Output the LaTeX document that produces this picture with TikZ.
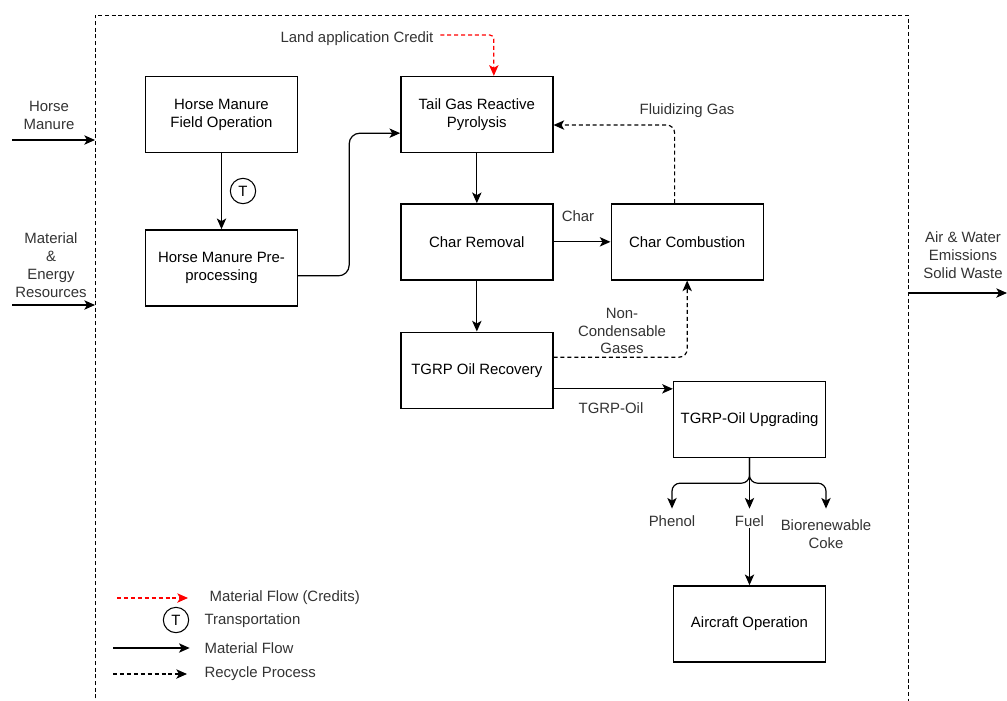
\documentclass[tikz,border=0pt]{standalone}
\usepackage{fontspec}
\setmainfont{Liberation Sans}
\usetikzlibrary{arrows.meta,positioning}
\tikzset{
    process-box/.style = {draw, line width=1pt, rectangle, minimum width=114pt, minimum height=57pt, align=center, inner sep=2pt},
    flow-text/.style = {align=center, inner sep=1pt, text=black!80},
    flow-arrow/.style = {draw, line width=0.9pt, -{Stealth[length=8pt,width=7pt,inset=2pt]}},
    recycle-arrow/.style = {flow-arrow, dash pattern=on 3pt off 2.2pt},
    credit-arrow/.style = {recycle-arrow, red},
    transport-mark/.style = {draw, circle, line width=0.8pt, minimum size=19pt, inner sep=0pt},
}

\begin{document}
\begin{tikzpicture}[x=0.75pt, y=-0.75pt, font=\fontsize{11.2}{13.4}\selectfont]
\useasboundingbox (0,0) rectangle (1007,700);
\coordinate (frame-nw) at (95,15);
\coordinate (frame-ne) at (908,15);
\draw[dash pattern=on 3pt off 2pt, line width=0.7pt] (95,705) -- (frame-nw) -- (frame-ne) -- (908,705);

\node [process-box] (field-op) at (221.5,114.5) {Horse Manure\\Field Operation};
\node [process-box, below=57pt of field-op] (pre-proc) {Horse Manure Pre-\\processing};
\node [process-box, right=76.5pt of field-op] (pyrolysis) {Tail Gas Reactive\\Pyrolysis};
\node [process-box, below=37.5pt of pyrolysis] (char-removal) {Char Removal};
\node [process-box, right=42.75pt of char-removal] (char-combustion) {Char Combustion};
\node [process-box, below=38.25pt of char-removal] (oil-recovery) {TGRP Oil Recovery};
\node [process-box] (upgrading) at (749.5,419.5) {TGRP-Oil Upgrading};
\node [process-box, below=95.25pt of upgrading] (aircraft) {Aircraft Operation};

\node [transport-mark] (haul) at (243,191) {T};
\draw [flow-arrow] (field-op) -- (pre-proc);
\draw [flow-arrow, rounded corners=8pt] ([yshift=-6pt]pre-proc.east) -- ++(51,0) |- ([yshift=-14pt]pyrolysis.west);

\node [flow-text] (land-credit) at (357,39) {Land application Credit};
\draw [credit-arrow, rounded corners=3pt] ([xshift=4pt,yshift=3pt]land-credit.east) -| ([xshift=12.75pt]pyrolysis.north);

\draw [flow-arrow] (pyrolysis) -- (char-removal);
\draw [flow-arrow] (char-removal) -- (char-combustion);
\node [flow-text] (char-label) at (578,216) {Char};
\draw [recycle-arrow, rounded corners=6pt] ([xshift=-9.4pt]char-combustion.north) |- ([yshift=-7.9pt]pyrolysis.east);
\node [flow-text] (fluid-label) at (687,111) {Fluidizing Gas};

\draw [flow-arrow] (char-removal) -- (oil-recovery);
\draw [recycle-arrow, rounded corners=6pt] ([yshift=9.75pt]oil-recovery.east) -| (char-combustion.south);
\node [flow-text] (gas-label) at (622,331) {Non-\\Condensable\\Gases};
\draw [flow-arrow] ([yshift=-14pt]oil-recovery.east) -- ([yshift=-14pt]oil-recovery.east -| upgrading.west);
\node [flow-text] (oil-label) at (611,408) {TGRP-Oil};

\node [flow-text] (phenol) at (672,521) {Phenol};
\node [flow-text] (fuel) at (749.5,521) {Fuel};
\node [flow-text] (coke) at (826,534) {Biorenewable\\Coke};
\draw [flow-arrow] (upgrading.south) -- ([yshift=4pt]fuel.north);
\draw [flow-arrow, rounded corners=6pt] (upgrading.south) -- ++(0,25) -| ([yshift=4pt]phenol.north);
\draw [flow-arrow, rounded corners=6pt] (upgrading.south) -- ++(0,25) -| ([yshift=4pt]phenol.north -| coke.north);
\draw [flow-arrow] (fuel) -- (aircraft);

\node [flow-text] (manure-label) at (49,115) {Horse\\Manure};
\coordinate (manure-in) at (12,140);
\draw [flow-arrow] (manure-in) -- (manure-in -| frame-nw);
\node [flow-text] (resource-label) at (51,265) {Material\\\&\\Energy\\Resources};
\coordinate (resource-in) at (12,305);
\draw [flow-arrow] (resource-in) -- (resource-in -| frame-nw);
\node [flow-text] (waste-label) at (963,255) {Air \& Water\\Emissions\\Solid Waste};
\coordinate (waste-out) at (1007,293);
\draw [flow-arrow] (waste-out -| frame-ne) -- (waste-out);

\node [flow-text, anchor=west] (key-credit-text) at (208,598) {Material Flow (Credits)};
\coordinate (key-credit) at (117,598);
\draw [credit-arrow] (key-credit) -- ([xshift=-15pt]key-credit-text.west);
\node [transport-mark] (key-haul) at (176,620) {T};
\node [flow-text, anchor=west] (key-haul-text) at (203,621) {Transportation};
\node [flow-text, anchor=west] (key-flow-text) at (203,648) {Material Flow};
\coordinate (key-flow) at (113,648);
\draw [flow-arrow] (key-flow) -- ([xshift=-10pt]key-flow-text.west);
\node [flow-text, anchor=west] (key-recycle-text) at (203,674) {Recycle Process};
\coordinate (key-recycle) at (113,674);
\draw [recycle-arrow] (key-recycle) -- ([xshift=-12pt]key-recycle-text.west);
\end{tikzpicture}
\end{document}
